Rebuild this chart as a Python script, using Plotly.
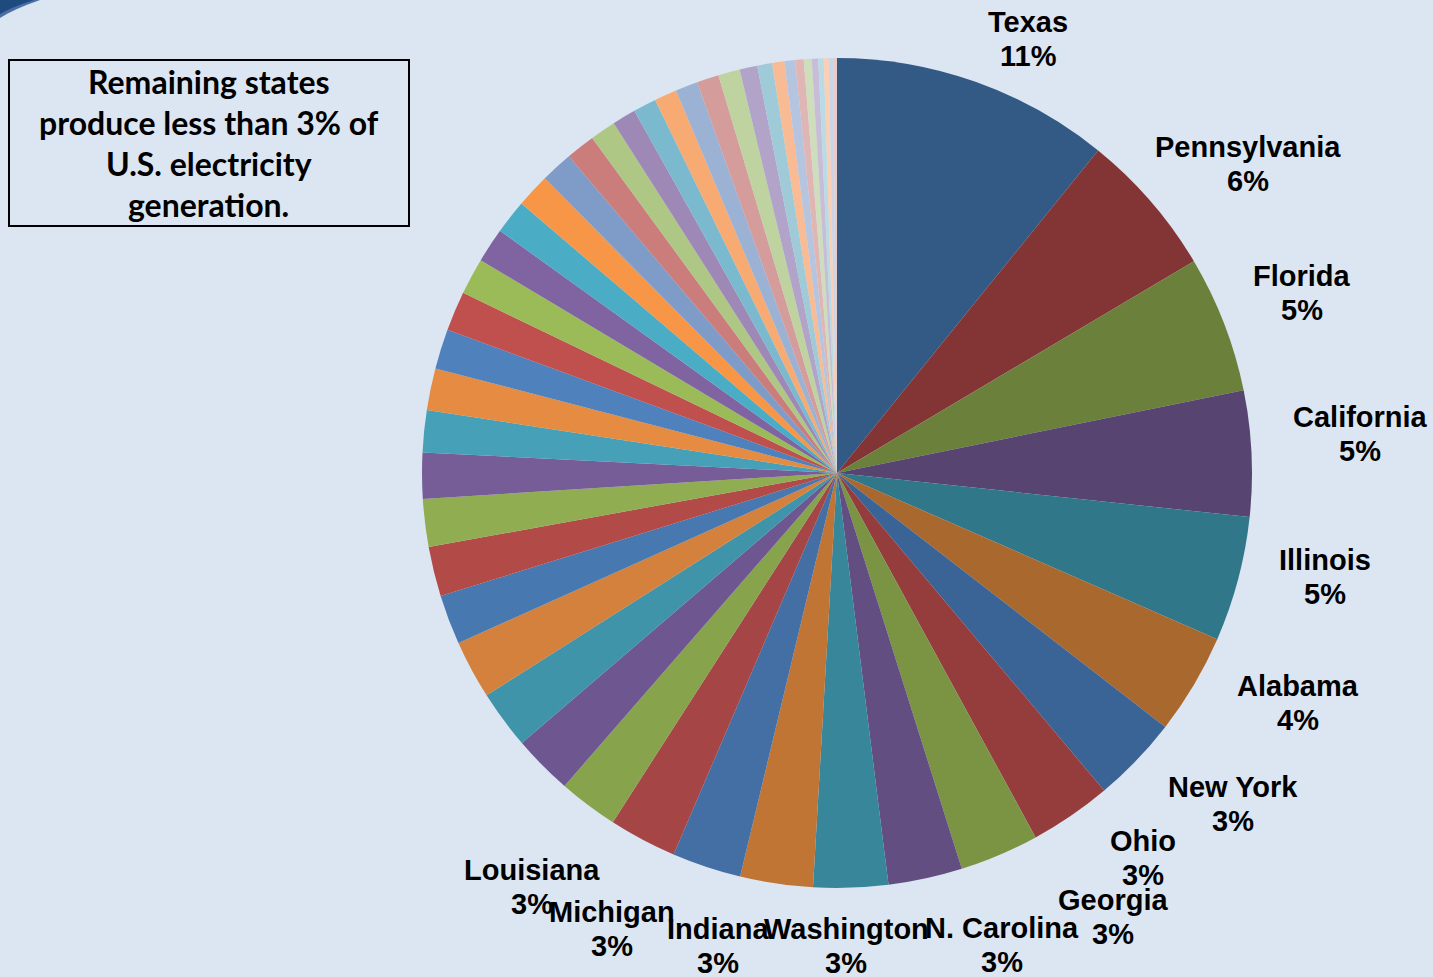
import plotly.graph_objects as go

W, H = 1433, 977

# Share of U.S. electricity generation (%), largest producers first
top_states = ["Texas", "Pennsylvania", "Florida", "California", "Illinois", "Alabama",
              "New York", "Ohio", "Georgia", "N. Carolina", "Washington", "Indiana",
              "Michigan", "Louisiana"]
top_shares = [10.83, 5.64, 5.33, 4.89, 4.86, 3.92, 3.39, 3.19, 3.08, 2.88, 2.90, 2.83,
              2.69, 2.64]

# Remaining states, each under 3%
other_shares = [2.32, 2.32, 2.28, 2.28, 1.93, 1.93, 1.86, 1.78, 1.64, 1.63, 1.55, 1.54,
                1.42, 1.35, 1.33, 1.32, 1.25, 1.14, 1.00, 0.92, 0.90, 0.88, 0.87, 0.86,
                0.84, 0.69, 0.58, 0.47, 0.42, 0.33, 0.31, 0.25, 0.21, 0.19, 0.17, 0.15]
other_states = [f"Remaining state {i + 1}" for i in range(len(other_shares))]

labels = top_states + other_states
values = top_shares + other_shares

slice_colors = [
    "#335A84", "#833535", "#6A803B", "#574470", "#31778A", "#A9682E",
    "#3B6496", "#953D3C", "#7A9444", "#624E80", "#37869A", "#C07535",
    "#446FA5", "#A54545", "#87A34C", "#6E5790", "#4094A9", "#D3813D",
    "#4878B0", "#B24A48", "#91AD52", "#775D97", "#46A1B8", "#E68B42",
    "#4F81BD", "#C0504D", "#9BBB59", "#8064A2", "#4BACC6", "#F79646",
    "#7F9BC8", "#CB7D7B", "#AFC785", "#9E88B6", "#7BBACE", "#F7AA72",
    "#9CB2D4", "#D49C9B", "#BFD3A0", "#B1A4C8", "#9FCAD8", "#F9BB94",
    "#B5C4DF", "#E0B6B5", "#CEDDBB", "#C8BDD6", "#B9DBE5", "#FBCFB3",
    "#CBD5E8", "#E8CCCB",
]

BG = "#DCE6F2"

# pie centre and radius in page pixels
cx, cy, r = 837, 473, 415

fig = go.Figure(go.Pie(
    labels=labels,
    values=values,
    sort=False,
    direction="clockwise",
    rotation=0,
    marker=dict(colors=slice_colors, line=dict(width=0)),
    textinfo="none",
    hoverinfo="label+percent",
    showlegend=False,
    domain=dict(x=[(cx - r) / W, (cx + r) / W], y=[1 - (cy + r) / H, 1 - (cy - r) / H]),
))

# outside label positions (page pixels, centre of the state name line)
label_pos = {
    "Texas": (1028, 22), "Pennsylvania": (1248, 147), "Florida": (1302, 276),
    "California": (1360, 417), "Illinois": (1325, 560), "Alabama": (1298, 686),
    "New York": (1233, 787), "Ohio": (1143, 841), "Georgia": (1113, 900),
    "N. Carolina": (1002, 928), "Washington": (846, 929), "Indiana": (718, 929),
    "Michigan": (612, 912), "Louisiana": (532, 870),
}
total = sum(values)
label_font = dict(family="Liberation Sans, Arial, sans-serif", size=29, color="black")
annotations = []
for name, share in zip(top_states, top_shares):
    x, y = label_pos[name]
    pct = f"{share / total * 100:.0f}%"
    for text, yy in ((f"<b>{name}</b>", y), (f"<b>{pct}</b>", y + 34)):
        annotations.append(dict(
            x=x / W, y=1 - yy / H, xref="paper", yref="paper", text=text,
            showarrow=False, xanchor="center", yanchor="middle", font=label_font,
        ))

# note box
note_lines = ["Remaining states", "produce less than 3% of", "U.S. electricity", "generation."]
for i, line in enumerate(note_lines):
    annotations.append(dict(
        x=209 / W, y=1 - (81 + 41 * i) / H, xref="paper", yref="paper",
        text=f"<b>{line}</b>", showarrow=False, xanchor="center", yanchor="middle",
        font=dict(family="Lato, Open Sans, sans-serif", size=32, color="black"),
    ))

shapes = [
    dict(type="rect", xref="paper", yref="paper",
         x0=9 / W, x1=409 / W, y0=1 - 226 / H, y1=1 - 60 / H,
         line=dict(color="black", width=2), fillcolor="rgba(0,0,0,0)"),
    # corner swoosh
    dict(type="path", xref="paper", yref="paper",
         path=f"M 0,1 L 0,{1 - 18 / H} Q {14 / W},{1 - 9 / H} {40 / W},1 Z",
         fillcolor="#4A6FA5", line=dict(width=0)),
    dict(type="path", xref="paper", yref="paper",
         path=f"M 0,1 L 0,{1 - 14 / H} Q {12 / W},{1 - 7 / H} {34 / W},1 Z",
         fillcolor="#1F4A7E", line=dict(width=0)),
]

fig.update_layout(
    width=W, height=H,
    margin=dict(l=0, r=0, t=0, b=0),
    paper_bgcolor=BG, plot_bgcolor=BG,
    annotations=annotations,
    shapes=shapes,
)

fig.write_html("out.html")
